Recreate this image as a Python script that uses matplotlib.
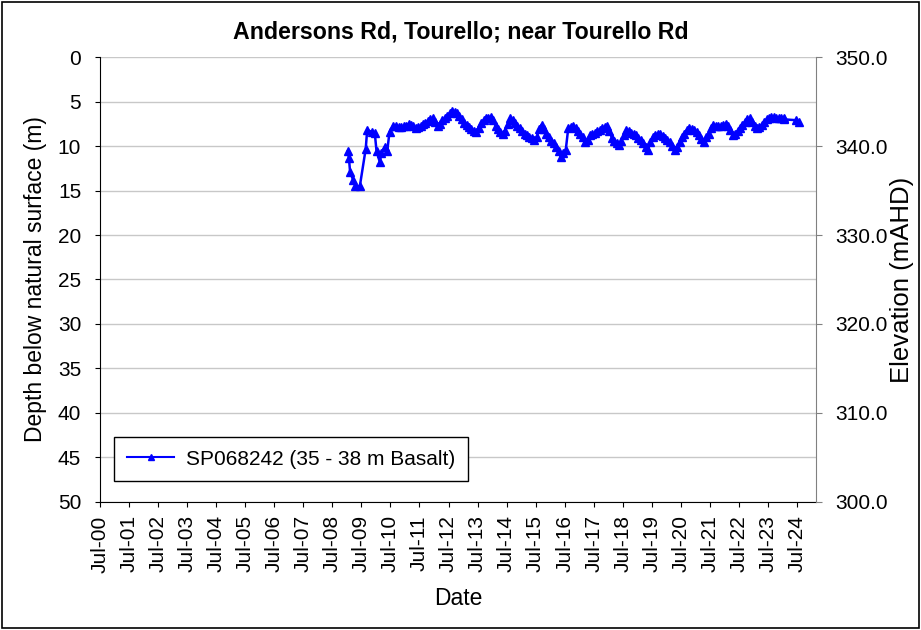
import pandas as pd
import numpy as np
import matplotlib.pyplot as plt
import matplotlib.dates as mdates
from matplotlib.patches import Rectangle

plt.rcParams['font.family'] = ['Liberation Sans', 'DejaVu Sans']

title = "Andersons Rd, Tourello; near Tourello Rd"
series_name = "SP068242 (35 - 38 m Basalt)"
surface_elev = 350.0

# early manual readings
early_dates = ["2009-01-12", "2009-01-26", "2009-02-09", "2009-03-20", "2009-04-18",
               "2009-06-12", "2009-08-25", "2009-09-12", "2009-11-06", "2009-12-16",
               "2010-01-08", "2010-02-18", "2010-03-10", "2010-04-20", "2010-05-22",
               "2010-06-20", "2010-07-30"]
early_depth = [10.6, 11.4, 12.9, 13.8, 14.5,
               14.5, 10.3, 8.2, 8.4, 8.5,
               10.6, 11.8, 10.8, 10.1, 10.6,
               8.4, 7.8]

# logger readings, monthly from Aug 2010 to Dec 2023
logger_start = "2010-08-15"
logger_depth = [
    7.8, 7.9, 7.9, 7.8, 7.7,                                  # 2010
    7.5, 7.6, 7.8, 8.0, 7.9, 7.7, 7.5, 7.4, 7.2, 7.0, 6.9, 7.3,  # 2011
    7.8, 7.5, 7.1, 6.9, 6.6, 6.3, 6.1, 6.2, 6.3, 6.6, 7.0, 7.4,  # 2012
    7.6, 7.9, 8.1, 8.3, 8.4, 8.0, 7.4, 7.1, 6.9, 6.8, 6.7, 7.1,  # 2013
    7.8, 8.1, 8.4, 8.6, 8.3, 7.5, 6.9, 7.1, 7.4, 7.7, 8.0, 8.3,  # 2014
    8.6, 8.8, 9.0, 9.1, 9.3, 9.0, 8.1, 7.6, 8.1, 8.6, 9.0, 9.4,  # 2015
    9.7, 10.1, 10.6, 11.2, 10.8, 10.4, 8.0, 7.9, 7.8, 8.0, 8.3, 8.6,  # 2016
    9.0, 9.5, 9.3, 8.8, 8.6, 8.5, 8.3, 8.2, 8.0, 7.9, 7.8, 8.3,  # 2017
    9.1, 9.4, 9.7, 9.9, 9.4, 8.8, 8.2, 8.3, 8.5, 8.6, 8.8, 9.1,  # 2018
    9.3, 9.7, 10.1, 10.4, 9.6, 9.0, 8.8, 8.6, 8.7, 8.9, 9.1, 9.3,  # 2019
    9.6, 10.0, 10.4, 10.1, 9.5, 9.0, 8.6, 8.2, 8.0, 8.1, 8.2, 8.4,  # 2020
    8.8, 9.2, 9.5, 9.0, 8.6, 8.0, 7.6, 7.7, 7.8, 7.8, 7.6, 7.5,  # 2021
    7.7, 8.2, 8.8, 8.6, 8.3, 8.0, 7.6, 7.3, 7.0, 6.9, 7.3, 7.7,  # 2022
    8.0, 7.9, 7.6, 7.3, 7.0, 6.8, 6.7, 6.7, 6.8, 6.8, 6.9, 6.9,  # 2023
]

late_dates = ["2024-01-15", "2024-06-20", "2024-07-20"]
late_depth = [7.0, 7.1, 7.3]

logger_dates = pd.date_range(logger_start, periods=len(logger_depth), freq="MS") + pd.Timedelta(days=14)
dates = pd.to_datetime(early_dates).append(logger_dates).append(pd.to_datetime(late_dates))
depth = np.array(early_depth + logger_depth + late_depth)

fig = plt.figure(figsize=(9.21, 6.30), dpi=100)
ax = fig.add_axes([0.1086, 0.2032, 0.7774, 0.7063])

ax.plot(dates, depth, color="#0000FF", lw=1.8, marker="^", ms=6, label=series_name)

ax.set_ylim(50, 0)
ax.set_yticks(np.arange(0, 51, 5))
ax.set_xlim(pd.Timestamp("2000-07-01"), pd.Timestamp("2025-02-25"))
ax.xaxis.set_major_locator(mdates.MonthLocator(bymonth=7, bymonthday=1))
ax.xaxis.set_major_formatter(mdates.DateFormatter("%b-%y"))
plt.setp(ax.get_xticklabels(), rotation=90)
ax.grid(axis="y", color="#c8c8c8", lw=1.0)
ax.set_axisbelow(True)
ax.spines["top"].set_visible(False)
ax.spines["right"].set_visible(False)
ax.tick_params(axis="both", labelsize=15, direction="out", length=3.6)
ax.tick_params(axis="y", pad=10)
ax.tick_params(axis="x", pad=6)
ax.set_ylabel("Depth below natural surface (m)", fontsize=16.5)
ax.yaxis.set_label_coords(-0.074, 0.5)
ax.set_xlabel("Date", fontsize=16.5)
ax.xaxis.set_label_coords(0.5, -0.19)

ax2 = ax.twinx()
ax2.set_ylim(surface_elev - 50, surface_elev)
ax2.set_yticks(np.arange(300, 351, 10))
ax2.yaxis.set_major_formatter(plt.FormatStrFormatter("%.1f"))
for s in ["top", "left", "bottom"]:
    ax2.spines[s].set_visible(False)
ax2.spines["right"].set_color("#808080")
ax2.tick_params(axis="y", labelsize=15, direction="out", length=4.5, color="#808080", pad=9.5)
ax2.set_ylabel("Elevation (mAHD)", fontsize=18.5)
ax2.yaxis.set_label_coords(1.104, 0.5)

leg = ax.legend(loc="lower left", bbox_to_anchor=(0.0196, 0.047), fontsize=15,
                frameon=True, fancybox=False, edgecolor="black", framealpha=1,
                borderpad=0.6, handlelength=2.3, handletextpad=0.55,
                borderaxespad=0)
leg.get_frame().set_linewidth(1.0)
leg.legend_handles[0].set_markersize(4)
leg.legend_handles[0].set_linewidth(1.5)

fig.suptitle(title, fontsize=16.7, fontweight="bold", y=0.968)

fig.patches.append(Rectangle((0.002, 0.003), 0.996, 0.994, transform=fig.transFigure,
                             fill=False, edgecolor="black", lw=1.2))

fig.savefig("out.png", dpi=100)
